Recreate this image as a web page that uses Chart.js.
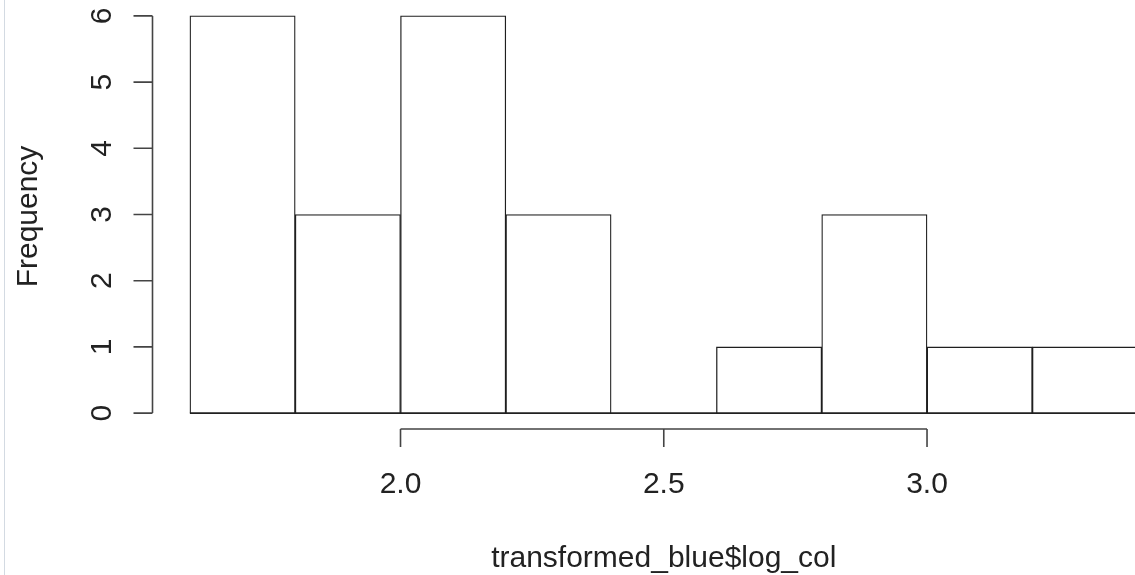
<!DOCTYPE html>
<html>
<head>
<meta charset="utf-8">
<title>Histogram of transformed_blue$log_col</title>
<script src="https://cdn.jsdelivr.net/npm/chart.js@4"></script>
<style>
  html, body { margin:0; padding:0; background:#fff; }
  #wrap { position:relative; width:1135px; height:575px; }
  #edge { position:absolute; left:4px; top:0; width:1px; height:575px; background:#d3dae2; }
</style>
</head>
<body>
<div id="wrap">
  <canvas id="hist" width="1135" height="575"></canvas>
  <div id="edge"></div>
</div>
<script>
// histogram bins (breaks) and counts
const binEdges = [1.6, 1.8, 2.0, 2.2, 2.4, 2.6, 2.8, 3.0, 3.2, 3.4];
const counts = [6, 3, 6, 3, 0, 1, 3, 1, 1];
const xTicks = [2.0, 2.5, 3.0];
const xTickLabels = ['2.0', '2.5', '3.0'];
const yTicks = [0, 1, 2, 3, 4, 5, 6];
const xTitle = 'transformed_blue$log_col';
const yTitle = 'Frequency';

const FONT = '30px "Liberation Sans", Arial, Helvetica, sans-serif';
const INK = '#222';

// bar midpoints so the linear scale can place them
const points = counts.map((c, i) => ({ x: (binEdges[i] + binEdges[i+1]) / 2, y: c }));

// R style axes, drawn off the chart's own scales
const rAxes = {
  id: 'rAxes',
  beforeDatasetsDraw(chart){
    const ctx = chart.ctx, xs = chart.scales.x, ys = chart.scales.y, a = chart.chartArea;
    ctx.save();
    ctx.beginPath(); ctx.rect(a.left, a.top, a.right - a.left, a.bottom - a.top); ctx.clip();
    ctx.strokeStyle = '#222'; ctx.lineWidth = 1.6;
    ctx.beginPath();
    ctx.moveTo(xs.getPixelForValue(binEdges[0]), ys.getPixelForValue(0));
    ctx.lineTo(xs.getPixelForValue(binEdges[binEdges.length-1]), ys.getPixelForValue(0));
    ctx.stroke();
    ctx.restore();
  },
  afterDraw(chart){
    const ctx = chart.ctx, xs = chart.scales.x, ys = chart.scales.y, a = chart.chartArea;
    ctx.save();
    ctx.strokeStyle = '#444'; ctx.lineWidth = 1.6;
    ctx.fillStyle = INK; ctx.font = FONT;

    // y axis
    const x0 = a.left + 0.5;
    ctx.beginPath();
    ctx.moveTo(x0, ys.getPixelForValue(yTicks[0]));
    ctx.lineTo(x0, ys.getPixelForValue(yTicks[yTicks.length-1]));
    yTicks.forEach(v => {
      const py = ys.getPixelForValue(v);
      ctx.moveTo(x0, py); ctx.lineTo(x0 - 19, py);
    });
    ctx.stroke();
    ctx.textAlign = 'center'; ctx.textBaseline = 'alphabetic';
    yTicks.forEach(v => {
      ctx.save();
      ctx.translate(x0 - 42, ys.getPixelForValue(v));
      ctx.rotate(-Math.PI/2);
      ctx.fillText(String(v), 0, 0);
      ctx.restore();
    });

    // x axis
    const y0 = a.bottom;
    ctx.beginPath();
    ctx.moveTo(xs.getPixelForValue(xTicks[0]), y0);
    ctx.lineTo(xs.getPixelForValue(xTicks[xTicks.length-1]), y0);
    xTicks.forEach(v => {
      const px = xs.getPixelForValue(v);
      ctx.moveTo(px, y0); ctx.lineTo(px, y0 + 18);
    });
    ctx.stroke();
    xTicks.forEach((v, i) => {
      ctx.fillText(xTickLabels[i], xs.getPixelForValue(v), y0 + 64);
    });

    // titles (centred on the full R plot region, which runs past the canvas)
    ctx.fillText(xTitle, xs.getPixelForValue(2.5), 567);
    ctx.save();
    ctx.translate(37, ys.getPixelForValue(3) + 2);
    ctx.rotate(-Math.PI/2);
    ctx.fillText(yTitle, 0, 0);
    ctx.restore();
    ctx.restore();
  }
};

new Chart(document.getElementById('hist'), {
  type: 'bar',
  data: {
    datasets: [{
      data: points,
      backgroundColor: '#ffffff',
      borderColor: '#1f1f1f',
      borderWidth: 1.3,
      borderSkipped: false,
      barPercentage: 1,
      categoryPercentage: 1
    }]
  },
  options: {
    responsive: false,
    animation: false,
    layout: { padding: { left: 152, right: 0, top: 0, bottom: 146 } },
    scales: {
      x: {
        type: 'linear', display: false, offset: false, min: 1.528, max: 3.395,
        // ticks on the bin edges so the bar width is one full bin
        afterBuildTicks: s => { s.ticks = binEdges.map(v => ({ value: v })); }
      },
      y: { display: false, min: -0.24, max: 6.24 }
    },
    plugins: { legend: { display: false }, tooltip: { enabled: false } }
  },
  plugins: [rAxes]
});
</script>
</body>
</html>
